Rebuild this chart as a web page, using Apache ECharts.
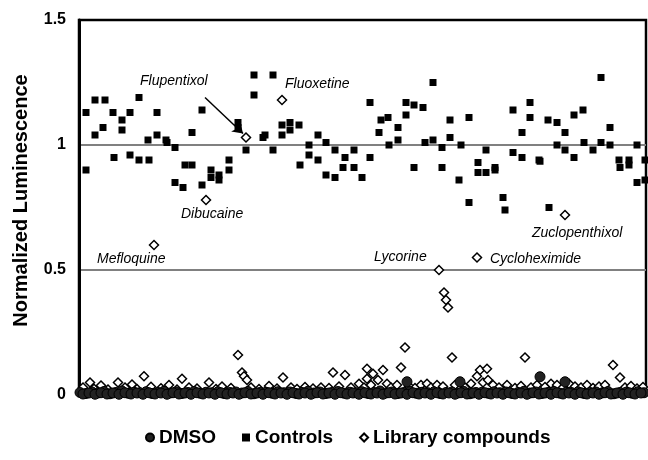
<!DOCTYPE html>
<html>
<head>
<meta charset="utf-8">
<script src="https://cdn.jsdelivr.net/npm/echarts@6/dist/echarts.min.js"></script>
<style>
  html, body { margin: 0; padding: 0; background: #fff; }
  #chart { width: 648px; height: 460px; }
</style>
</head>
<body>
<div id="chart"></div>
<script>
const chart = echarts.init(document.querySelector('#chart'));

// well position along the screen, normalized luminescence
const controls = [
    [7, 1.13], [7, 0.90], [16, 1.18], [16, 1.04], [24, 1.07], [26, 1.18], [34, 1.13], [35, 0.95],
    [43, 1.10], [43, 1.06], [51, 1.13], [51, 0.96], [60, 1.19], [60, 0.94], [69, 1.02], [70, 0.94],
    [78, 1.13], [78, 1.04], [87, 1.02], [88, 1.01], [96, 0.99], [96, 0.85], [104, 0.83], [106, 0.92],
    [113, 1.05], [113, 0.92], [123, 1.14], [123, 0.84], [132, 0.90], [132, 0.87], [140, 0.88], [140, 0.86],
    [150, 0.94], [150, 0.90], [159, 1.09], [159, 1.07], [167, 0.98], [175, 1.28], [175, 1.20], [184, 1.03],
    [186, 1.04], [194, 1.28], [194, 0.98], [203, 1.08], [203, 1.04], [211, 1.09], [211, 1.06], [220, 1.08],
    [221, 0.92], [230, 1.00], [230, 0.96], [239, 1.04], [239, 0.94], [247, 1.01], [247, 0.88], [256, 0.98],
    [256, 0.87], [264, 0.91], [266, 0.95], [275, 0.98], [275, 0.91], [283, 0.87], [291, 1.17], [291, 0.95],
    [300, 1.05], [302, 1.10], [309, 1.11], [310, 1.00], [319, 1.07], [319, 1.02], [327, 1.17], [327, 1.12],
    [335, 1.16], [335, 0.91], [344, 1.15], [346, 1.01], [354, 1.25], [354, 1.02], [363, 0.99], [363, 0.91],
    [371, 1.10], [371, 1.03], [380, 0.86], [382, 1.00], [390, 1.11], [390, 0.77], [399, 0.93], [399, 0.89],
    [407, 0.98], [407, 0.89], [416, 0.91], [416, 0.90], [424, 0.79], [426, 0.74], [434, 1.14], [434, 0.97],
    [443, 1.05], [443, 0.95], [451, 1.17], [451, 1.11], [460, 0.94], [461, 0.935], [469, 1.10], [470, 0.75],
    [478, 1.09], [478, 1.00], [486, 1.05], [486, 0.98], [495, 1.12], [495, 0.95], [504, 1.14], [505, 1.01],
    [514, 0.98], [522, 1.27], [522, 1.01], [531, 1.07], [531, 1.00], [540, 0.94], [541, 0.91], [550, 0.94],
    [550, 0.92], [558, 1.00], [558, 0.85], [566, 0.94], [566, 0.86]
];

const dmso = [
    [1, 0.010], [7, 0.006], [13, 0.012], [19, 0.008], [25, 0.014], [31, 0.005], [37, 0.010], [43, 0.016],
    [49, 0.007], [55, 0.011], [61, 0.009], [67, 0.013], [73, 0.006], [79, 0.010], [85, 0.015], [91, 0.008],
    [97, 0.012], [103, 0.006], [109, 0.010], [115, 0.014], [121, 0.007], [127, 0.011], [133, 0.009], [139, 0.013],
    [145, 0.006], [151, 0.010], [157, 0.012], [163, 0.008], [169, 0.014], [175, 0.005], [181, 0.010], [187, 0.011],
    [193, 0.007], [199, 0.013], [205, 0.009], [211, 0.012], [217, 0.006], [223, 0.010], [229, 0.015], [235, 0.008],
    [241, 0.012], [247, 0.006], [253, 0.010], [259, 0.014], [265, 0.007], [271, 0.011], [277, 0.009], [283, 0.013],
    [289, 0.006], [295, 0.010], [301, 0.016], [307, 0.008], [313, 0.012], [319, 0.006], [325, 0.010], [331, 0.014],
    [337, 0.007], [343, 0.011], [349, 0.009], [355, 0.013], [361, 0.006], [367, 0.010], [373, 0.012], [379, 0.008],
    [385, 0.014], [391, 0.005], [397, 0.010], [403, 0.011], [409, 0.007], [415, 0.013], [421, 0.009], [427, 0.012],
    [433, 0.006], [439, 0.010], [445, 0.015], [451, 0.008], [457, 0.012], [463, 0.006], [469, 0.010], [475, 0.014],
    [481, 0.007], [487, 0.011], [493, 0.009], [499, 0.013], [505, 0.006], [511, 0.010], [517, 0.012], [523, 0.008],
    [529, 0.014], [535, 0.005], [541, 0.010], [547, 0.011], [553, 0.007], [559, 0.013], [565, 0.009],
    [4, 0.004], [10, 0.008], [16, 0.003], [22, 0.009], [28, 0.004], [34, 0.008], [40, 0.003], [46, 0.009],
    [52, 0.004], [58, 0.008], [64, 0.003], [70, 0.009], [76, 0.004], [82, 0.008], [88, 0.003], [94, 0.009],
    [100, 0.004], [106, 0.008], [112, 0.003], [118, 0.009], [124, 0.004], [130, 0.008], [136, 0.003], [142, 0.009],
    [148, 0.004], [154, 0.008], [160, 0.003], [166, 0.009], [172, 0.004], [178, 0.008], [184, 0.003], [190, 0.009],
    [196, 0.004], [202, 0.008], [208, 0.003], [214, 0.009], [220, 0.004], [226, 0.008], [232, 0.003], [238, 0.009],
    [244, 0.004], [250, 0.008], [256, 0.003], [262, 0.009], [268, 0.004], [274, 0.008], [280, 0.003], [286, 0.009],
    [292, 0.004], [298, 0.008], [304, 0.003], [310, 0.009], [316, 0.004], [322, 0.008], [328, 0.003], [334, 0.009],
    [340, 0.004], [346, 0.008], [352, 0.003], [358, 0.009], [364, 0.004], [370, 0.008], [376, 0.003], [382, 0.009],
    [388, 0.004], [394, 0.008], [400, 0.003], [406, 0.009], [412, 0.004], [418, 0.008], [424, 0.003], [430, 0.009],
    [436, 0.004], [442, 0.008], [448, 0.003], [454, 0.009], [460, 0.004], [466, 0.008], [472, 0.003], [478, 0.009],
    [484, 0.004], [490, 0.008], [496, 0.003], [502, 0.009], [508, 0.004], [514, 0.008], [520, 0.003], [526, 0.009],
    [532, 0.004], [538, 0.008], [544, 0.003], [550, 0.009], [556, 0.004], [562, 0.008],
    [328, 0.053], [381, 0.053], [461, 0.073], [486, 0.053]
];

const libraryLow = [
    [4, 0.030], [11, 0.050], [15, 0.025], [22, 0.038], [29, 0.022], [39, 0.050], [46, 0.030], [53, 0.042],
    [58, 0.024], [65, 0.075], [72, 0.033], [82, 0.027], [90, 0.040], [98, 0.022], [103, 0.065], [110, 0.030],
    [118, 0.026], [130, 0.050], [137, 0.024], [143, 0.034], [152, 0.028], [163, 0.090], [165, 0.075], [168, 0.060],
    [172, 0.030], [180, 0.024], [190, 0.036], [198, 0.026], [204, 0.070], [212, 0.030], [218, 0.024], [226, 0.032],
    [234, 0.026], [242, 0.030], [250, 0.028], [254, 0.090], [260, 0.034], [266, 0.080], [272, 0.030], [280, 0.045],
    [285, 0.030], [288, 0.105], [288, 0.065], [292, 0.040], [294, 0.085], [299, 0.060], [304, 0.100], [308, 0.045],
    [312, 0.030], [318, 0.040], [322, 0.110], [330, 0.035], [336, 0.028], [342, 0.040], [348, 0.045], [352, 0.030],
    [358, 0.040], [364, 0.034], [373, 0.150], [376, 0.040], [386, 0.030], [392, 0.045], [398, 0.075], [401, 0.100],
    [404, 0.050], [408, 0.105], [409, 0.060], [414, 0.040], [420, 0.030], [428, 0.040], [436, 0.028], [442, 0.036],
    [446, 0.150], [452, 0.030], [458, 0.040], [466, 0.032], [472, 0.045], [478, 0.040], [484, 0.030], [490, 0.045],
    [496, 0.034], [502, 0.030], [508, 0.040], [514, 0.028], [520, 0.034], [526, 0.040], [534, 0.120], [541, 0.070],
    [546, 0.030], [552, 0.036], [558, 0.026], [564, 0.032]
];

const libraryHigh = [
    [159, 0.16], [326, 0.19], [365, 0.41], [367, 0.38], [369, 0.35]
];

// named hits: name, well, value, label offset
const hitNames = ['Mefloquine', 'Dibucaine', 'Flupentixol', 'Fluoxetine', 'Lycorine', 'Cycloheximide', 'Zuclopenthixol'];
const hitWells = [75, 127, 167, 203, 360, 398, 486];
const hitValues = [0.60, 0.78, 1.03, 1.18, 0.50, 0.55, 0.72];
const hitOffsets = [[-57, 14], [-25, 14], [-106, -56], [3, -16], [-65, -13], [13, 2], [-33, 18]];

const yTicks = [0, 0.5, 1, 1.5];

const hits = hitNames.map((name, i) => ({
    value: [hitWells[i], hitValues[i]],
    label: {
        show: true,
        formatter: name,
        position: 'inside',
        align: 'left',
        verticalAlign: 'middle',
        offset: hitOffsets[i],
        fontFamily: 'Liberation Sans',
        fontStyle: 'italic',
        fontSize: 14,
        color: '#000'
    }
}));

const diamondStyle = {
    color: '#fff',
    borderColor: '#000',
    borderWidth: 1.5,
    opacity: 1
};

chart.setOption({
    animation: false,
    grid: {
        left: 79,
        right: 2,
        top: 20,
        bottom: 65,
        show: true,
        borderColor: '#000',
        borderWidth: 2.5
    },
    legend: {
        bottom: 8,
        left: 140,
        itemWidth: 8,
        itemHeight: 8,
        itemGap: 26,
        textStyle: {
            fontFamily: 'Liberation Sans',
            fontWeight: 'bold',
            fontSize: 19,
            color: '#000'
        },
        data: [
            { name: 'DMSO', icon: 'circle' },
            { name: 'Controls', icon: 'rect' },
            { name: 'Library compounds', icon: 'diamond' }
        ]
    },
    xAxis: {
        type: 'value',
        min: 0,
        max: 567,
        axisLine: { show: true, lineStyle: { color: '#000', width: 3 } },
        axisTick: { show: false },
        axisLabel: { show: false },
        splitLine: { show: false }
    },
    yAxis: {
        type: 'value',
        min: 0,
        max: 1.5,
        interval: 0.5,
        name: 'Normalized Luminescence',
        nameLocation: 'middle',
        nameGap: 48,
        nameTextStyle: {
            fontFamily: 'Liberation Sans',
            fontWeight: 'bold',
            fontSize: 20,
            color: '#000',
            padding: [0, 0, 0, 14]
        },
        axisLine: { show: true, lineStyle: { color: '#000', width: 3 } },
        axisTick: { show: false },
        axisLabel: {
            margin: 13,
            fontFamily: 'Liberation Sans',
            fontWeight: 'bold',
            fontSize: 16,
            color: '#000',
            formatter: (v) => yTicks.includes(v) ? String(v) : ''
        },
        splitLine: { show: true, lineStyle: { color: ['#000', '#808080', '#808080', '#000'], width: 2 } }
    },
    series: [
        {
            name: 'Library compounds',
            type: 'scatter',
            symbol: 'diamond',
            symbolSize: 9,
            z: 2,
            itemStyle: diamondStyle,
            data: libraryLow.concat(libraryHigh)
        },
        {
            name: 'DMSO',
            type: 'scatter',
            symbol: 'circle',
            symbolSize: 10,
            z: 3,
            itemStyle: { color: '#222', borderColor: '#000', borderWidth: 1, opacity: 1 },
            data: dmso
        },
        {
            name: 'Controls',
            type: 'scatter',
            symbol: 'rect',
            symbolSize: 7,
            z: 4,
            itemStyle: { color: '#000', opacity: 1 },
            data: controls
        },
        {
            name: 'Library compounds',
            type: 'scatter',
            symbol: 'diamond',
            symbolSize: 9,
            z: 5,
            itemStyle: diamondStyle,
            data: hits,
            markLine: {
                silent: true,
                symbol: ['none', 'arrow'],
                symbolSize: 10,
                label: { show: false },
                lineStyle: { color: '#000', width: 1.5, type: 'solid', opacity: 1 },
                data: [[{ coord: [126, 1.19] }, { coord: [164, 1.046] }]]
            }
        }
    ]
});
</script>
</body>
</html>
